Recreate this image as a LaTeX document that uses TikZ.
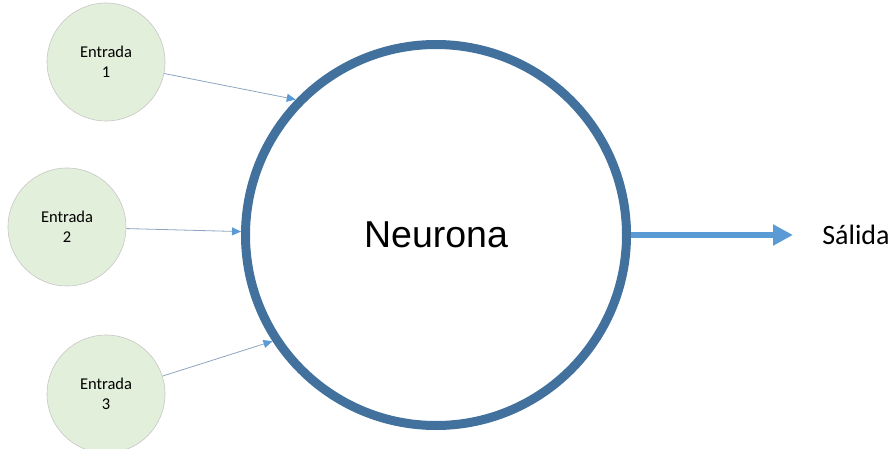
\documentclass[tikz,border=0pt]{standalone}
\usepackage{fontspec}
\setmainfont{Carlito}
\newfontfamily\arialfont{Liberation Sans}
\usetikzlibrary{arrows.meta}

\definecolor{ringblue}{HTML}{41719C}
\definecolor{tipblue}{HTML}{5B9BD5}
\definecolor{inputgreen}{HTML}{E2EFDA}
\definecolor{lineblue}{HTML}{8EA4C0}

\tikzset{
  entrada/.style={circle, draw=black!22, line width=0.6pt, fill=inputgreen,
    minimum size=118pt, align=center, font=\fontsize{16.5}{20}\selectfont},
  neurona/.style={circle, draw=ringblue, line width=9pt, minimum size=381pt,
    font=\arialfont\fontsize{37.5}{45}\selectfont},
  inarrow/.style={draw=lineblue, line width=0.8pt,
    -{Triangle[length=9pt,width=8pt,color=tipblue]}},
  outarrow/.style={draw=tipblue, line width=6.5pt,
    -{Triangle[length=20pt,width=20pt]}}
}

\begin{document}
\begin{tikzpicture}[x=1pt,y=1pt]
  \useasboundingbox (0,0) rectangle (894,448);

  % Fixed coordinates
  \node[neurona] (n) at (436,213) {Neurona};
  \node[entrada] (e1) at (106,386) {Entrada\\1};
  \node[entrada] (e2) at (67,221) {Entrada\\2};
  \node[entrada] (e3) at (106,54) {Entrada\\3};
  \node[font=\fontsize{28}{34}\selectfont] (s) at (856,213) {Sálida};
  \coordinate (o) at (793,213);

  % Inputs into the neuron
  \draw[inarrow] (e1) -- (n.136);
  \draw[inarrow] (e2) -- (n.179);
  \draw[inarrow] (e3) -- (n.213);

  % Output
  \draw[outarrow] (n.east) -- (o);
\end{tikzpicture}
\end{document}
